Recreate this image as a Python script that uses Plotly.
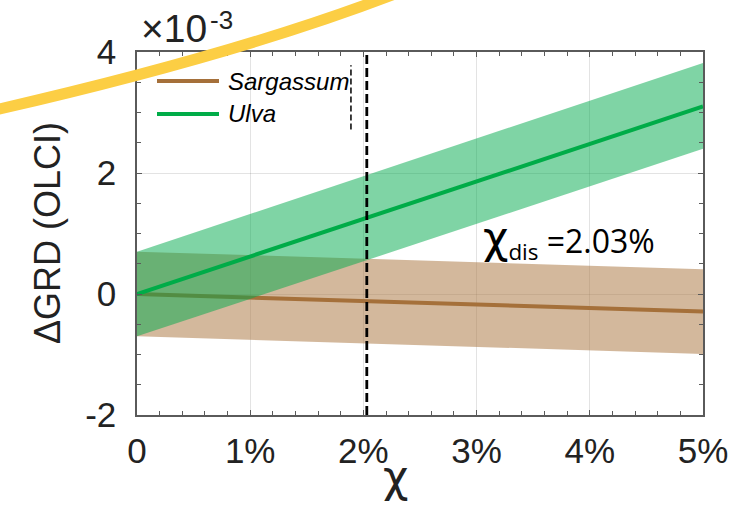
import plotly.graph_objects as go

# ---- data (values in units of 1e-3) ----
chi = [0, 5]                      # chi in %
ulva_mean = [0.0, 3.1]
ulva_upper = [0.7, 3.82]
ulva_lower = [-0.7, 2.4]
sarg_mean = [0.0, -0.29]
sarg_upper = [0.7, 0.41]
sarg_lower = [-0.7, -0.99]
chi_dis = 2.03
x_ticks = [0, 1, 2, 3, 4, 5]
x_labels = ["0", "1%", "2%", "3%", "4%", "5%"]
y_ticks = [-2, 0, 2, 4]
y_labels = ["-2", "0", "2", "4"]

BROWN_LINE = "rgb(165,112,58)"
BROWN_FILL = "rgba(175,125,75,0.55)"
GREEN_LINE = "rgb(0,172,72)"
GREEN_FILL = "rgba(0,170,75,0.5)"
AX = "#5a5a5a"
FONT = "Liberation Sans, Arial, Helvetica, sans-serif"

fig = go.Figure()
fig.add_trace(go.Scatter(x=chi, y=sarg_lower, mode="lines", line=dict(width=0),
                         showlegend=False, hoverinfo="skip"))
fig.add_trace(go.Scatter(x=chi, y=sarg_upper, mode="lines", line=dict(width=0),
                         fill="tonexty", fillcolor=BROWN_FILL, showlegend=False, hoverinfo="skip"))
fig.add_trace(go.Scatter(x=chi, y=sarg_mean, mode="lines", name="Sargassum",
                         line=dict(color=BROWN_LINE, width=4), showlegend=False))
fig.add_trace(go.Scatter(x=chi, y=ulva_lower, mode="lines", line=dict(width=0),
                         showlegend=False, hoverinfo="skip"))
fig.add_trace(go.Scatter(x=chi, y=ulva_upper, mode="lines", line=dict(width=0),
                         fill="tonexty", fillcolor=GREEN_FILL, showlegend=False, hoverinfo="skip"))
fig.add_trace(go.Scatter(x=chi, y=ulva_mean, mode="lines", name="Ulva",
                         line=dict(color=GREEN_LINE, width=4), showlegend=False))

L, R, T, B = 137, 38, 52, 91
W, H = 741, 506
pw, ph = W - L - R, H - T - B


def px(X):
    return (X - L) / pw


def py(Y):
    return (H - B - Y) / ph


shapes = []
# chi_dis dashed line
shapes.append(dict(type="line", xref="x", yref="y", x0=chi_dis, x1=chi_dis, y0=-2, y1=4,
                   line=dict(color="black", width=2.8, dash="9px,4px"), layer="above"))
# stray dashed segment at legend edge
shapes.append(dict(type="line", xref="x", yref="y", x0=1.89, x1=1.89, y0=2.72, y1=3.78,
                   line=dict(color="black", width=1.5, dash="6px,3px"), layer="above"))
# manual legend
legend_items = [("Sargassum", BROWN_LINE, 81), ("Ulva", GREEN_LINE, 114)]
annotations = []
for name, col, yy in legend_items:
    shapes.append(dict(type="line", xref="paper", yref="paper", x0=px(157), x1=px(219),
                       y0=py(yy), y1=py(yy), line=dict(color=col, width=4), layer="above"))
    annotations.append(dict(text="<i>%s</i>" % name, xref="paper", yref="paper",
                            x=px(226), y=py(yy), xanchor="left", yanchor="middle",
                            showarrow=False, font=dict(family=FONT, size=24, color="black")))
# yellow highlight arc
p0 = (px(-5), py(110))
c0 = (px(240), py(54))
p1 = (px(400), py(-8))
shapes.append(dict(type="path", xref="paper", yref="paper",
                   path="M %f,%f Q %f,%f %f,%f" % (p0 + c0 + p1),
                   line=dict(color="rgb(252,206,68)", width=11), layer="above"))

annotations += [
    dict(text="×10", xref="paper", yref="paper", x=px(139), y=py(29),
         xanchor="left", yanchor="middle", showarrow=False,
         font=dict(family=FONT, size=39, color="#222")),
    dict(text="-3", xref="paper", yref="paper", x=px(208), y=py(20),
         xanchor="left", yanchor="middle", showarrow=False,
         font=dict(family=FONT, size=26, color="#222")),
    dict(text="<span style='font-family:DejaVu Sans;font-size:44px'>χ</span><sub>dis</sub> =2.03%",
         xref="x", yref="y",
         x=3.04, y=0.9, xanchor="left", yanchor="middle", showarrow=False,
         font=dict(family="Open Sans, sans-serif", size=32, color="black")),
    dict(text="χ", xref="paper", yref="paper", x=px(395), y=py(476), xanchor="center",
         yanchor="middle", showarrow=False,
         font=dict(family="DejaVu Sans, sans-serif", size=44, color="#222")),
    dict(text="ΔGRD (OLCI)", xref="paper", yref="paper", x=px(47), y=py(233), xanchor="center",
         yanchor="middle", textangle=-90, showarrow=False,
         font=dict(family=FONT, size=36, color="#222")),
]

axis_common = dict(showline=True, linecolor=AX, linewidth=1.5, mirror="ticks",
                   ticks="inside", ticklen=5, tickwidth=1.2, tickcolor=AX,
                   showgrid=True, gridcolor="rgba(0,0,0,0.11)", gridwidth=1,
                   zeroline=False, tickfont=dict(family=FONT, size=35, color="#222"))

fig.update_layout(
    width=W, height=H, margin=dict(l=L, r=R, t=T, b=B, autoexpand=False),
    paper_bgcolor="white", plot_bgcolor="white",
    xaxis=dict(range=[0, 5], tickvals=x_ticks, ticktext=x_labels, ticklabelstandoff=4,
               minor=dict(dtick=0.2, ticks="inside", ticklen=4, tickcolor=AX, showgrid=False),
               **axis_common),
    yaxis=dict(range=[-2, 4], tickvals=y_ticks, ticktext=y_labels, ticklabelstandoff=12,
               minor=dict(dtick=0.5, ticks="inside", ticklen=4, tickcolor=AX, showgrid=False),
               **axis_common),
    shapes=shapes, annotations=annotations, showlegend=False,
)

fig.write_html("out.html")
